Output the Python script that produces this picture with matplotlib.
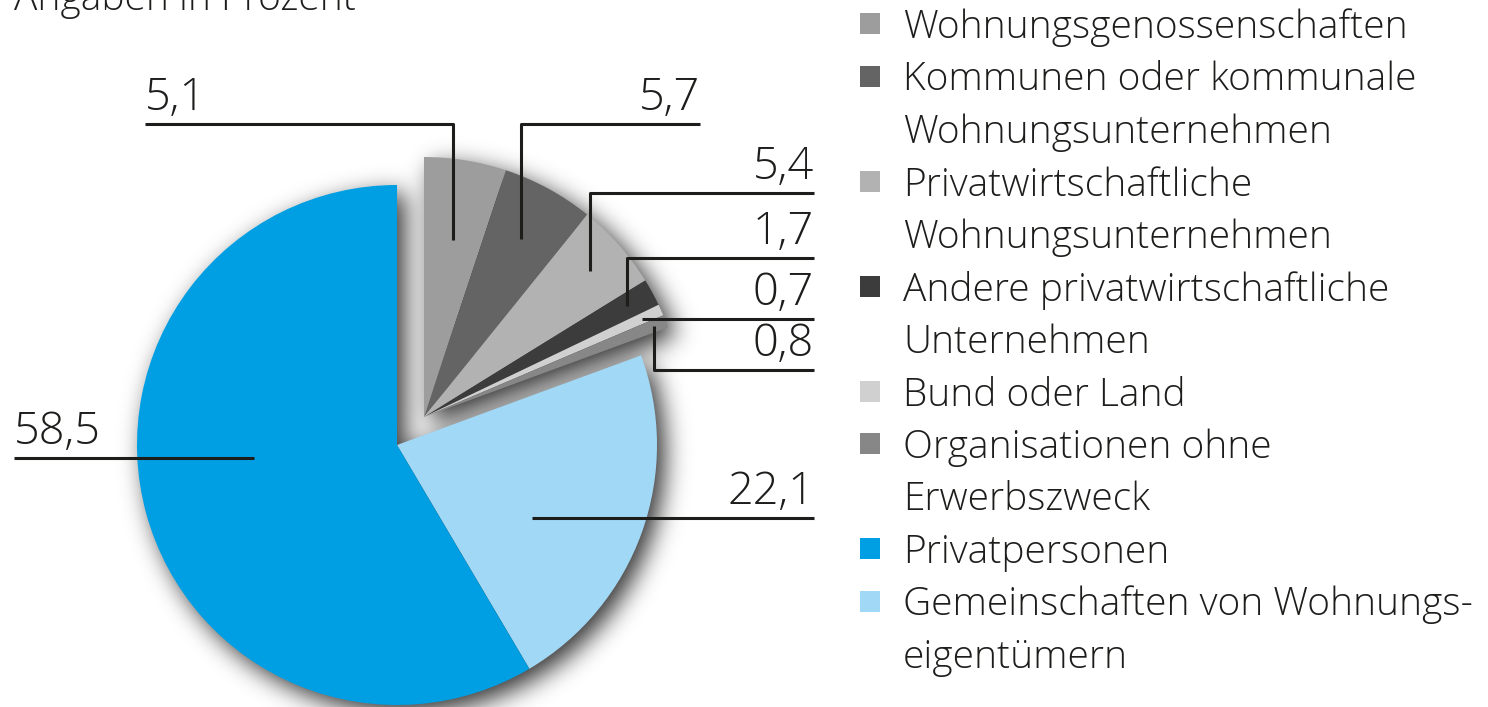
import numpy as np
import matplotlib.pyplot as plt
from matplotlib.patches import Rectangle

plt.rcParams['font.family'] = ['Open Sans', 'DejaVu Sans']
plt.rcParams['font.weight'] = 'light'

# data
title = 'Angaben in Prozent'
categories = ['Wohnungsgenossenschaften',
              'Kommunen oder kommunale\nWohnungsunternehmen',
              'Privatwirtschaftliche\nWohnungsunternehmen',
              'Andere privatwirtschaftliche\nUnternehmen',
              'Bund oder Land',
              'Organisationen ohne\nErwerbszweck',
              'Privatpersonen',
              'Gemeinschaften von Wohnungs-\neigentümern']
values = [5.1, 5.7, 5.4, 1.7, 0.7, 0.8, 58.5, 22.1]
value_labels = ['5,1', '5,7', '5,4', '1,7', '0,7', '0,8', '58,5', '22,1']
colors = ['#9d9d9d', '#646464', '#b2b2b2', '#3c3c3c', '#d0d0d0', '#878787',
          '#009fe3', '#a1d8f5']
detached = [True, True, True, True, True, True, False, False]
# clockwise order of the slices in the pie (legend order differs)
pie_order = [0, 1, 2, 3, 4, 5, 7, 6]

W, H = 1488, 707
txt = '#1d1d1b'


def py(y):  # pixel row (from top) -> axes y
    return H - y


fig = plt.figure(figsize=(W / 100, H / 100), dpi=100)
ax = fig.add_axes([0, 0, 1, 1])

cx, cy, R = 397, py(445), 260
off = (27, 28)
pie_wedges, _ = ax.pie([values[i] for i in pie_order],
                       colors=[colors[i] for i in pie_order],
                       startangle=90, counterclock=False,
                       radius=R, center=(cx, cy), wedgeprops=dict(linewidth=0))
wedges = [None] * len(values)
for w, i in zip(pie_wedges, pie_order):
    wedges[i] = w
    w.set_zorder(3)
    if detached[i]:
        w.set_center((cx + off[0], cy + off[1]))

ax.set_xlim(0, W)
ax.set_ylim(0, H)
ax.set_aspect('equal')
ax.axis('off')

# soft drop shadow, built from the wedge geometry
pad = 80
X, Y = np.meshgrid(np.arange(-pad, W + pad) + 0.5,
                   H - (np.arange(-pad, H + pad) + 0.5))
sdx, sdy = 8, -8
mask = np.zeros(X.shape)
for w in wedges:
    ccx, ccy = w.center
    dx = X - sdx - ccx
    dy = Y - sdy - ccy
    ang = np.degrees(np.arctan2(dy, dx)) % 360
    inside = (np.hypot(dx, dy) <= w.r) & \
        (((ang - w.theta1 % 360) % 360) <= (w.theta2 - w.theta1))
    mask[inside] = 1.0
sigma = 12
ky = np.fft.fftfreq(mask.shape[0])
kx = np.fft.rfftfreq(mask.shape[1])
G = np.exp(-2 * (np.pi * sigma) ** 2 * (ky[:, None] ** 2 + kx[None, :] ** 2))
blur = np.fft.irfft2(np.fft.rfft2(mask) * G, s=mask.shape)
blur = np.clip(blur[pad:-pad, pad:-pad], 0, 1)
rgba = np.zeros((H, W, 4))
rgba[..., 3] = blur * 0.8
ax.imshow(rgba, extent=(0, W, 0, H), origin='upper', zorder=1,
          interpolation='bilinear')

# value labels with leader lines
# (index, radius fraction, angle nudge, line row, text x, text align)
label_layout = [
    (0, 0.69, 0, 124, 145, 'left'),
    (1, 0.78, 0, 124, 700, 'right'),
    (2, 0.85, 0, 193, 814, 'right'),
    (3, 0.89, 0, 258, 814, 'right'),
    (4, 0.92, 0, None, 814, 'right'),
    (5, 0.95, 0, 370, 814, 'right'),
    (6, 0.61, 10, 458, 14, 'left'),
    (7, 0.59, -8.6, 518, 814, 'right'),
]
lw = 2.2
for i, frac, nudge, line_row, tx, ha in label_layout:
    w = wedges[i]
    th = np.radians((w.theta1 + w.theta2) / 2 + nudge)
    axp = w.center[0] + frac * w.r * np.cos(th)
    ayp = w.center[1] + frac * w.r * np.sin(th)
    ly = ayp if line_row is None else py(line_row)
    if i >= 6:
        ayp = ly
    ax.plot([tx, axp, axp], [ly, ly, ayp], color=txt, lw=lw,
            solid_capstyle='butt', zorder=5)
    ax.text(tx, ly + 14, value_labels[i], ha=ha, va='baseline',
            fontsize=32.5, color=txt, zorder=5)

# title, cut at the top edge
ax.text(14, py(10), title, ha='left', va='baseline', fontsize=28, color=txt)

# legend
leg_x, leg_base, pitch = 903, 38, 52.5
row = 0
for cat, col in zip(categories, colors):
    base = leg_base + row * pitch
    ax.add_patch(Rectangle((860, py(base - 4)), 20, 21, color=col,
                           lw=0, zorder=5))
    for k, line in enumerate(cat.split('\n')):
        ax.text(leg_x, py(base + k * pitch), line, ha='left', va='baseline',
                fontsize=28, color=txt)
    row += len(cat.split('\n'))

fig.savefig('out.png', dpi=100)
